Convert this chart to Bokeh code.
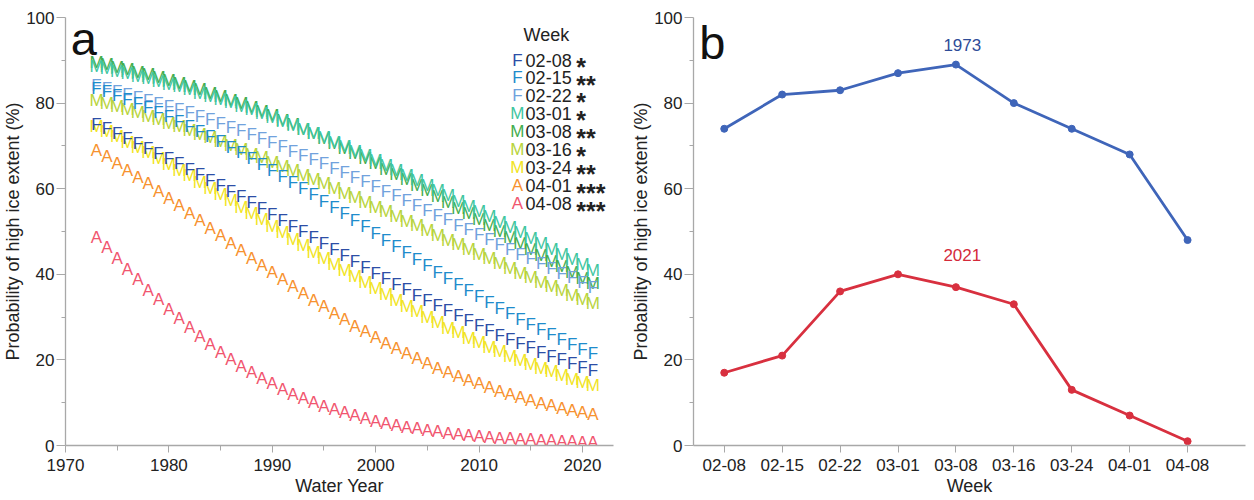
from bokeh.plotting import figure
from bokeh.layouts import row
from bokeh.models import Range1d, FixedTicker, ColumnDataSource
from bokeh.core.properties import value
from bokeh.embed import file_html
from bokeh.resources import INLINE

# ---------------- data ----------------
years = list(range(1973, 2022))
weeks = ["02-08", "02-15", "02-22", "03-01", "03-08", "03-16", "03-24", "04-01", "04-08"]
letters = ["F", "F", "F", "M", "M", "M", "M", "A", "A"]
stars = ["*", "**", "*", "*", "**", "*", "**", "***", "***"]
colors = ["#2d4ea6", "#1f8ccc", "#71a2dd", "#3fc6a0", "#43ad4f", "#b8d43c", "#f1e424", "#f7922f", "#f1566f"]

p_0208 = [75.0, 74.0, 72.9, 71.8, 70.6, 69.5, 68.3, 67.1, 65.9, 64.6, 63.3, 62.0, 60.7, 59.4, 58.1, 56.7, 55.4,
          54.0, 52.6, 51.2, 49.9, 48.5, 47.1, 45.7, 44.4, 43.0, 41.7, 40.3, 39.0, 37.7, 36.4, 35.1, 33.9, 32.7,
          31.5, 30.3, 29.1, 28.0, 26.9, 25.8, 24.8, 23.8, 22.8, 21.8, 20.9, 20.0, 19.1, 18.3, 17.5]
p_0215 = [83.5, 82.7, 81.8, 80.9, 79.9, 78.9, 77.9, 76.8, 75.7, 74.6, 73.4, 72.2, 71.0, 69.7, 68.4, 67.1, 65.7,
          64.3, 62.9, 61.5, 60.0, 58.6, 57.1, 55.6, 54.1, 52.6, 51.1, 49.5, 48.0, 46.5, 45.0, 43.5, 42.0, 40.5,
          39.1, 37.6, 36.2, 34.8, 33.5, 32.1, 30.8, 29.5, 28.3, 27.1, 25.9, 24.7, 23.6, 22.5, 21.5]
p_0222 = [84.0, 83.4, 82.7, 82.1, 81.4, 80.7, 80.0, 79.2, 78.5, 77.7, 76.9, 76.1, 75.2, 74.4, 73.5, 72.6, 71.7,
          70.7, 69.8, 68.8, 67.8, 66.8, 65.8, 64.8, 63.7, 62.7, 61.6, 60.5, 59.4, 58.3, 57.2, 56.1, 55.0, 53.8,
          52.7, 51.5, 50.4, 49.3, 48.1, 47.0, 45.9, 44.7, 43.6, 42.5, 41.4, 40.3, 39.2, 38.1, 37.0]
p_0301 = [88.5, 88.0, 87.4, 86.9, 86.3, 85.7, 85.1, 84.4, 83.8, 83.1, 82.3, 81.6, 80.8, 80.1, 79.2, 78.4, 77.5,
          76.7, 75.8, 74.8, 73.9, 72.9, 71.9, 70.9, 69.8, 68.8, 67.7, 66.6, 65.4, 64.3, 63.1, 62.0, 60.8, 59.6,
          58.4, 57.1, 55.9, 54.7, 53.4, 52.2, 50.9, 49.7, 48.4, 47.2, 45.9, 44.7, 43.4, 42.2, 41.0]
p_0308 = [89.5, 89.0, 88.4, 87.9, 87.2, 86.6, 86.0, 85.3, 84.6, 83.9, 83.1, 82.3, 81.5, 80.7, 79.8, 78.9, 78.0,
          77.0, 76.0, 75.0, 73.9, 72.9, 71.8, 70.6, 69.5, 68.3, 67.1, 65.9, 64.6, 63.4, 62.1, 60.8, 59.5, 58.1,
          56.8, 55.4, 54.1, 52.7, 51.3, 50.0, 48.6, 47.2, 45.8, 44.5, 43.1, 41.8, 40.4, 39.1, 37.8]
p_0316 = [80.6, 79.9, 79.2, 78.4, 77.7, 76.9, 76.1, 75.3, 74.5, 73.6, 72.7, 71.9, 71.0, 70.0, 69.1, 68.1, 67.2,
          66.2, 65.2, 64.2, 63.2, 62.1, 61.1, 60.0, 58.9, 57.9, 56.8, 55.7, 54.6, 53.5, 52.4, 51.3, 50.2, 49.1,
          48.0, 46.9, 45.8, 44.7, 43.6, 42.5, 41.4, 40.3, 39.3, 38.2, 37.2, 36.2, 35.1, 34.1, 33.2]
p_0324 = [74.5, 73.3, 72.1, 70.9, 69.7, 68.4, 67.0, 65.7, 64.3, 63.0, 61.5, 60.1, 58.7, 57.2, 55.7, 54.2, 52.7,
          51.2, 49.7, 48.2, 46.7, 45.2, 43.8, 42.3, 40.8, 39.4, 38.0, 36.6, 35.2, 33.8, 32.5, 31.2, 29.9, 28.7,
          27.4, 26.3, 25.1, 24.0, 22.9, 21.9, 20.9, 19.9, 19.0, 18.0, 17.2, 16.3, 15.5, 14.8, 14.0]
p_0401 = [69.0, 67.5, 65.9, 64.3, 62.7, 61.1, 59.4, 57.7, 56.0, 54.3, 52.5, 50.8, 49.0, 47.3, 45.5, 43.8, 42.1,
          40.4, 38.7, 37.1, 35.5, 33.9, 32.4, 30.8, 29.4, 27.9, 26.6, 25.2, 23.9, 22.7, 21.5, 20.3, 19.2, 18.1,
          17.1, 16.2, 15.2, 14.4, 13.5, 12.7, 12.0, 11.2, 10.6, 9.9, 9.3, 8.7, 8.2, 7.7, 7.2]
p_0408 = [48.7, 46.2, 43.6, 41.1, 38.7, 36.3, 34.0, 31.7, 29.6, 27.5, 25.5, 23.6, 21.8, 20.1, 18.5, 17.1, 15.7,
          14.4, 13.1, 12.0, 11.0, 10.0, 9.1, 8.3, 7.6, 6.9, 6.3, 5.7, 5.2, 4.7, 4.3, 3.9, 3.5, 3.2, 2.9, 2.6,
          2.4, 2.1, 1.9, 1.7, 1.6, 1.4, 1.3, 1.2, 1.1, 1.0, 0.9, 0.8, 0.7]
series = [p_0208, p_0215, p_0222, p_0301, p_0308, p_0316, p_0324, p_0401, p_0408]

prob_1973 = [74, 82, 83, 87, 89, 80, 74, 68, 48]
prob_2021 = [17, 21, 36, 40, 37, 33, 13, 7, 1]

FONT = value("Liberation Sans")
AXIS_GRAY = "#a8a8a8"
TXT = "#222222"


def style(p):
    p.outline_line_color = None
    p.xgrid.grid_line_color = None
    p.ygrid.grid_line_color = None
    p.background_fill_color = "white"
    p.border_fill_color = "white"
    for ax in (p.xaxis[0], p.yaxis[0]):
        ax.axis_line_color = AXIS_GRAY
        ax.axis_line_width = 1.3
        ax.major_tick_line_color = AXIS_GRAY
        ax.minor_tick_line_color = AXIS_GRAY
        ax.major_tick_in = 0
        ax.minor_tick_in = 0
        ax.major_label_text_font = "Liberation Sans"
        ax.major_label_text_font_size = "17px"
        ax.major_label_text_color = TXT
        ax.axis_label_text_font = "Liberation Sans"
        ax.axis_label_text_font_size = "18px"
        ax.axis_label_text_font_style = "normal"
        ax.axis_label_text_color = TXT
    p.xaxis.major_tick_out = 7
    p.xaxis.minor_tick_out = 5
    p.xaxis.major_label_standoff = 6
    p.xaxis.axis_label_standoff = 2
    p.yaxis.major_tick_out = 9
    p.yaxis.minor_tick_out = 4
    p.yaxis.major_label_standoff = 2
    p.yaxis.axis_label_standoff = 0
    p.yaxis.ticker = FixedTicker(ticks=[0, 20, 40, 60, 80, 100], minor_ticks=[10, 30, 50, 70, 90])
    p.yaxis.axis_label = "Probability of high ice extent (%)"


# ---------------- panel a ----------------
p1 = figure(width=628, height=500, output_backend="svg", toolbar_location=None,
            x_range=Range1d(1970, 2023), y_range=Range1d(0, 100),
            min_border_left=60, min_border_right=15, min_border_top=17, min_border_bottom=55)
style(p1)
p1.xaxis.ticker = FixedTicker(ticks=[1970, 1980, 1990, 2000, 2010, 2020],
                              minor_ticks=[1975, 1985, 1995, 2005, 2015])
p1.xaxis.axis_label = "Water Year"

for i in reversed(range(len(weeks))):
    src = ColumnDataSource(dict(x=years, y=series[i], t=[letters[i]] * len(years)))
    p1.text(x="x", y="y", text="t", source=src, text_color=colors[i], text_font=FONT,
            text_font_size="17px", text_align="center", text_baseline="middle")

# legend (drawn in data space of panel a)
p1.text(x=[2014.3], y=[95.8], text=["Week"], text_font=FONT, text_font_size="18px",
        text_color=TXT, text_align="left", text_baseline="middle")
leg_y = [90.0, 85.9, 81.8, 77.6, 73.4, 69.2, 65.0, 60.7, 56.5]
p1.text(x=[2013.7] * 9, y=leg_y, text=letters, text_color=colors, text_font=FONT,
        text_font_size="17px", text_align="center", text_baseline="middle")
p1.text(x=[2014.5] * 9, y=leg_y, text=weeks, text_color=TXT, text_font=FONT,
        text_font_size="18px", text_align="left", text_baseline="middle")
p1.text(x=[2019.4] * 9, y=leg_y, text=stars, text_color=TXT, text_font=FONT,
        text_font_size="25px", text_font_style="bold", text_align="left", text_baseline="middle",
        y_offset=7)
p1.text(x=[1970.5], y=[95.2], text=["a"], text_font=FONT, text_font_size="47px",
        text_color="#111111", text_align="left", text_baseline="middle")

# ---------------- panel b ----------------
idx = list(range(len(weeks)))
p2 = figure(width=626, height=500, output_backend="svg", toolbar_location=None,
            x_range=Range1d(-0.531, 9.0), y_range=Range1d(0, 100),
            min_border_left=60, min_border_right=9, min_border_top=17, min_border_bottom=55)
style(p2)
p2.xaxis.ticker = FixedTicker(ticks=idx)
p2.xaxis.major_label_overrides = {i: w for i, w in enumerate(weeks)}
p2.xaxis.minor_tick_out = 0
p2.xaxis.axis_label = "Week"

blue = "#3f65b9"
red = "#d8303f"
p2.line(idx, prob_1973, line_color=blue, line_width=2.8)
p2.scatter(idx, prob_1973, size=7, fill_color=blue, line_color=blue)
p2.line(idx, prob_2021, line_color=red, line_width=2.8)
p2.scatter(idx, prob_2021, size=7, fill_color=red, line_color=red)
p2.text(x=[4.11], y=[93.5], text=["1973"], text_font=FONT, text_font_size="17px",
        text_color="#2e4c98", text_align="center", text_baseline="middle")
p2.text(x=[4.11], y=[44.4], text=["2021"], text_font=FONT, text_font_size="17px",
        text_color="#d42a3a", text_align="center", text_baseline="middle")
p2.text(x=[-0.43], y=[94.2], text=["b"], text_font=FONT, text_font_size="47px",
        text_color="#111111", text_align="left", text_baseline="middle")

layout = row(p1, p2)
open("out.html", "w").write(file_html(layout, INLINE))
